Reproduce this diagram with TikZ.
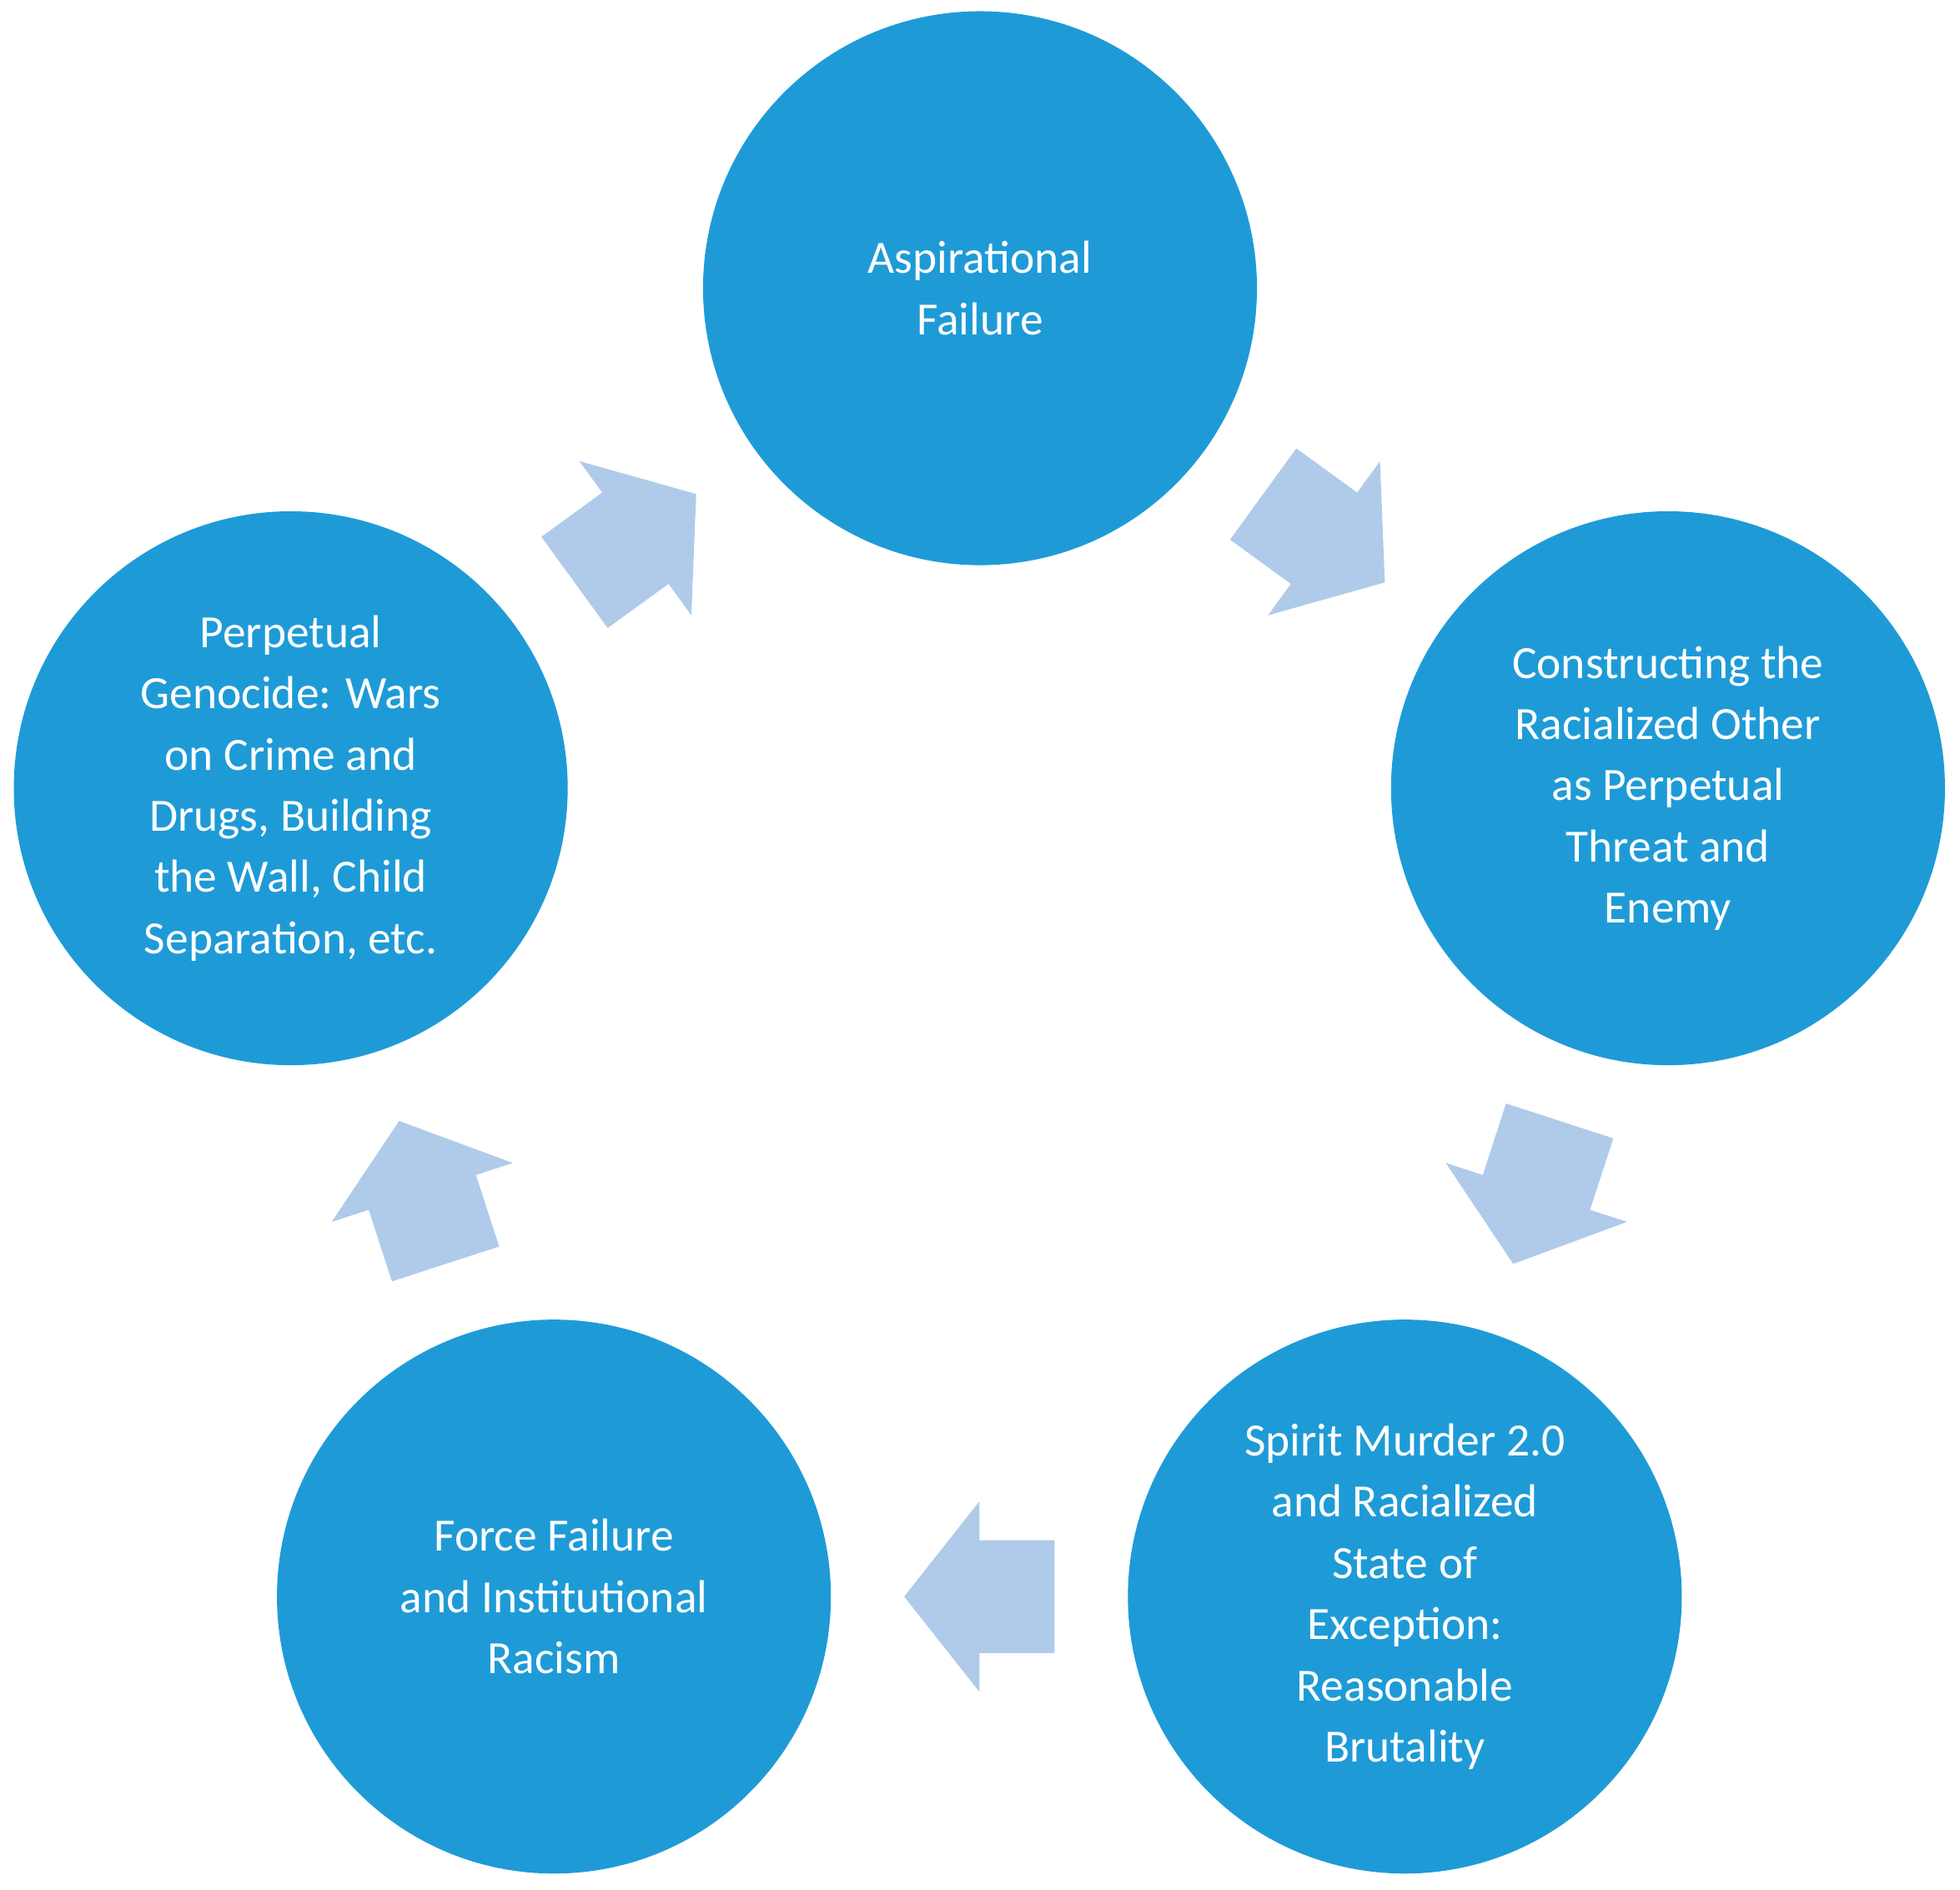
\documentclass[tikz,border=0pt]{standalone}
\usepackage{fontspec}
\setmainfont{Carlito}
\usetikzlibrary{calc}
\definecolor{stepblue}{RGB}{30,155,215}
\definecolor{arrowblue}{RGB}{175,203,233}
\tikzset{
  stage/.style={circle, fill=stepblue, minimum size=4.42cm, inner sep=0pt,
    text=white, align=center, font=\fontsize{10.5}{13.9}\selectfont},
  blockarrow/.style={fill=arrowblue}
}
\begin{document}
\begin{tikzpicture}
  \useasboundingbox (0,0) rectangle (15.64,15.08);
  % Define stages
  \node[stage] (aspire) at (7.82,12.78) {Aspirational\\Failure};
  \node[stage] (other) at (13.31,8.79) {Constructing the\\Racialized Other\\as Perpetual\\Threat and\\Enemy};
  \node[stage] (spirit) at (11.21,2.34) {Spirit Murder 2.0\\and Racialized\\State of\\Exception:\\Reasonable\\Brutality};
  \node[stage] (force) at (4.42,2.34) {Force Failure\\and Institutional\\Racism};
  \node[stage] (genocide) at (2.32,8.79) {Perpetual\\Genocide: Wars\\on Crime and\\Drugs, Building\\the Wall, Child\\Separation, etc.};
  % Draw block arrows
  \foreach \a/\b/\ang in {aspire/other/-36, other/spirit/-108, spirit/force/180,
                          force/genocide/108, genocide/aspire/36} {
    \coordinate (m) at ($(\a)!0.5!(\b)$);
    \fill[blockarrow, shift={(m)}, rotate=\ang]
      (-0.6,0.45) -- (0,0.45) -- (0,0.76) -- (0.6,0) -- (0,-0.76)
      -- (0,-0.45) -- (-0.6,-0.45) -- cycle;
  }
\end{tikzpicture}
\end{document}
